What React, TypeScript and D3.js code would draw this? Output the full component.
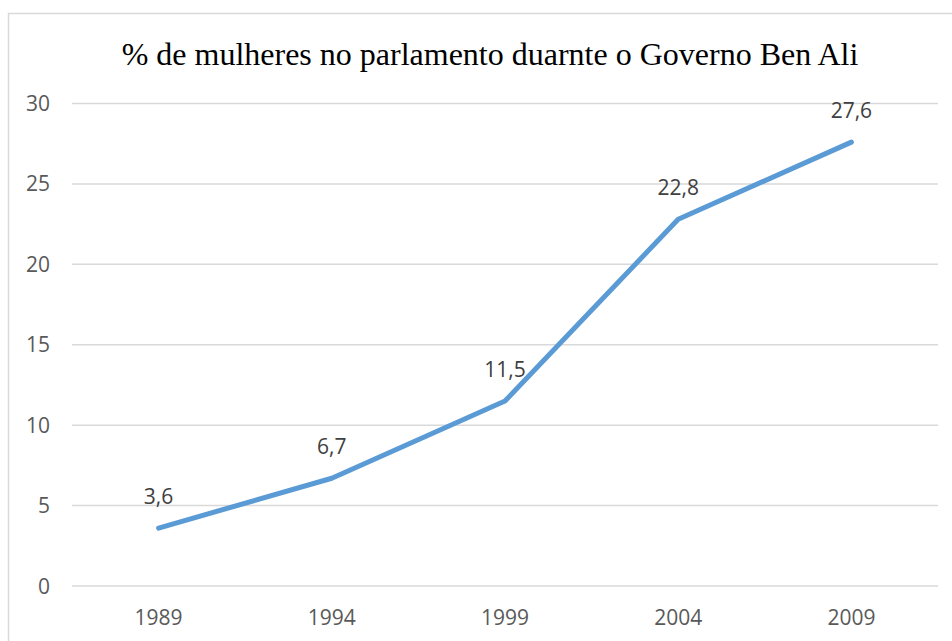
import { useEffect, useRef } from 'react';
import * as d3 from 'd3';

const years = ['1989', '1994', '1999', '2004', '2009'];
const values = [3.6, 6.7, 11.5, 22.8, 27.6];
const yTicks = [0, 5, 10, 15, 20, 25, 30];
const title = '% de mulheres no parlamento duarnte o Governo Ben Ali';

const LINE_COLOR = '#5b9bd5';
const GRID_COLOR = '#d9d9d9';
const TEXT_COLOR = '#595959';

export default function App() {
  const svgRef = useRef<SVGSVGElement>(null);

  useEffect(() => {
    if (!svgRef.current) return;
    const width = 952;
    const height = 641;

    const svg = d3.select(svgRef.current);
    svg.selectAll('*').remove();
    svg.attr('width', width).attr('height', height);

    // chart frame (runs off the right and bottom edges)
    svg
      .append('rect')
      .attr('x', 8.5)
      .attr('y', 13.5)
      .attr('width', 1000)
      .attr('height', 700)
      .attr('fill', '#fff')
      .attr('stroke', GRID_COLOR)
      .attr('stroke-width', 1.5);

    const left = 72;
    const right = 938;
    const top = 103.5;
    const bottom = 586;

    const x = d3.scaleBand<string>().domain(years).range([left, right]);
    const y = d3.scaleLinear().domain([0, 30]).range([bottom, top]);

    // gridlines
    svg
      .append('g')
      .selectAll('line')
      .data(yTicks)
      .enter()
      .append('line')
      .attr('x1', left)
      .attr('x2', right)
      .attr('y1', (d) => y(d))
      .attr('y2', (d) => y(d))
      .attr('stroke', GRID_COLOR)
      .attr('stroke-width', 1.5);

    // y labels
    svg
      .append('g')
      .selectAll('text')
      .data(yTicks)
      .enter()
      .append('text')
      .attr('x', 50)
      .attr('y', (d) => y(d))
      .attr('dy', '0.36em')
      .attr('text-anchor', 'end')
      .attr('fill', TEXT_COLOR)
      .style('font-family', '"Open Sans", sans-serif')
      .style('font-size', '21px')
      .text((d) => d);

    // x labels
    svg
      .append('g')
      .selectAll('text')
      .data(years)
      .enter()
      .append('text')
      .attr('x', (d) => x(d)! + x.bandwidth() / 2)
      .attr('y', 625)
      .attr('text-anchor', 'middle')
      .attr('fill', TEXT_COLOR)
      .style('font-family', '"Open Sans", sans-serif')
      .style('font-size', '21px')
      .text((d) => d);

    // line
    const line = d3
      .line<number>()
      .x((_, i) => x(years[i])! + x.bandwidth() / 2)
      .y((d) => y(d));

    svg
      .append('path')
      .datum(values)
      .attr('d', line)
      .attr('fill', 'none')
      .attr('stroke', LINE_COLOR)
      .attr('stroke-width', 5)
      .attr('stroke-linecap', 'round')
      .attr('stroke-linejoin', 'round');

    // data labels
    svg
      .append('g')
      .selectAll('text')
      .data(values)
      .enter()
      .append('text')
      .attr('x', (_, i) => x(years[i])! + x.bandwidth() / 2)
      .attr('y', (d) => y(d) - 24)
      .attr('text-anchor', 'middle')
      .attr('fill', '#404040')
      .style('font-family', '"Open Sans", sans-serif')
      .style('font-size', '21px')
      .text((d) => String(d).replace('.', ','));

    // title
    svg
      .append('text')
      .attr('x', 490)
      .attr('y', 65)
      .attr('text-anchor', 'middle')
      .attr('fill', '#000')
      .style('font-family', '"Liberation Serif", "Times New Roman", serif')
      .style('font-size', '32px')
      .text(title);
  }, []);

  return <svg ref={svgRef} style={{ position: 'absolute', left: 0, top: 0 }} />;
}
